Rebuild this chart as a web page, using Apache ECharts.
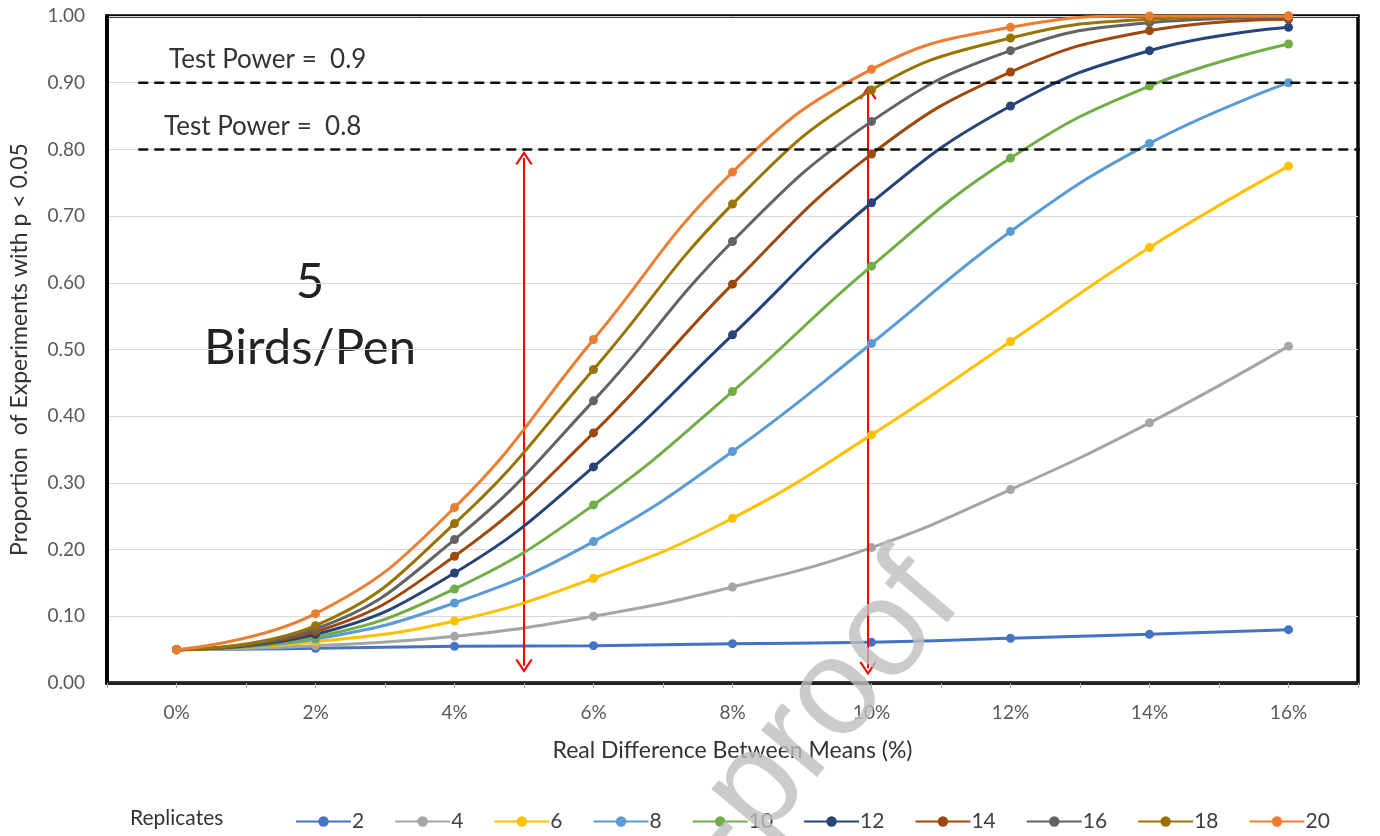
<!DOCTYPE html>
<html>
<head>
<meta charset="utf-8">
<title>Test power vs. real difference between means</title>
<script src="https://cdn.jsdelivr.net/npm/echarts@6/dist/echarts.min.js"></script>
<style>
  html, body { margin: 0; padding: 0; background: #fff; }
  #chart { width: 1380px; height: 836px; }
</style>
</head>
<body>
<div id="chart"></div>
<script>
// Real difference between means (%) at which power was simulated
const differences = [0, 2, 4, 6, 8, 10, 12, 14, 16];

// Proportion of experiments with p < 0.05, one array per number of replicates
const rep2  = [0.050, 0.052, 0.055, 0.056, 0.059, 0.061, 0.067, 0.073, 0.080];
const rep4  = [0.050, 0.056, 0.070, 0.100, 0.144, 0.203, 0.290, 0.390, 0.505];
const rep6  = [0.050, 0.062, 0.093, 0.157, 0.247, 0.372, 0.512, 0.653, 0.775];
const rep8  = [0.050, 0.066, 0.120, 0.212, 0.347, 0.509, 0.677, 0.809, 0.900];
const rep10 = [0.050, 0.069, 0.141, 0.267, 0.437, 0.625, 0.787, 0.895, 0.958];
const rep12 = [0.050, 0.073, 0.165, 0.324, 0.522, 0.720, 0.865, 0.948, 0.983];
const rep14 = [0.050, 0.077, 0.190, 0.375, 0.598, 0.793, 0.916, 0.978, 0.995];
const rep16 = [0.050, 0.081, 0.215, 0.423, 0.662, 0.842, 0.948, 0.990, 0.998];
const rep18 = [0.050, 0.086, 0.239, 0.470, 0.718, 0.889, 0.967, 0.995, 1.000];
const rep20 = [0.050, 0.104, 0.263, 0.515, 0.766, 0.920, 0.983, 1.000, 1.000];

const replicateNames = ['2', '4', '6', '8', '10', '12', '14', '16', '18', '20'];
const replicateValues = [rep2, rep4, rep6, rep8, rep10, rep12, rep14, rep16, rep18, rep20];
const replicateColors = ['#4472C4', '#A5A5A5', '#FFC000', '#5B9BD5', '#70AD47',
                         '#264478', '#9E480E', '#636363', '#997300', '#ED7D31'];

// Target power levels drawn as dashed reference lines
const powerLevels = [0.9, 0.8];
const powerLineSpan = [-0.55, 17.32];

// Vertical double-headed arrows: [x, yTop, yBottom]
const arrows = [[5, 0.787, 0.026], [9.95, 0.885, 0.022]];

const FONT = 'Lato, "Open Sans", sans-serif';
const chart = echarts.init(document.getElementById('chart'), null, { renderer: 'canvas' });

// open "V" arrow head, tip pointing up (markLine rotates it along the line)
const chevron = 'path://M0,9 L5,0 L10,9 L9,10 L5,2.6 L1,10 Z';

const curveSeries = replicateNames.map((name, i) => ({
  name: name,
  type: 'line',
  data: differences.map((d, j) => [d, replicateValues[i][j]]),
  smooth: 0.45,
  symbol: 'circle',
  symbolSize: 9,
  showSymbol: true,
  lineStyle: { width: 3, color: replicateColors[i] },
  itemStyle: { color: replicateColors[i] },
  emphasis: { disabled: true },
  z: 3 + i
}));

const powerSeries = powerLevels.map((p) => ({
  name: 'power ' + p,
  type: 'line',
  data: powerLineSpan.map((x) => [x, p]),
  symbol: 'none',
  clip: false,
  silent: true,
  lineStyle: { color: '#111', width: 2.5, type: [10, 6] },
  emphasis: { disabled: true },
  z: 20
}));

const arrowSeries = {
  name: 'arrows',
  type: 'line',
  data: [],
  silent: true,
  markLine: {
    silent: true,
    animation: false,
    symbol: [chevron, chevron],
    symbolSize: [17, 14],
    label: { show: false },
    lineStyle: { color: '#FF0000', width: 2, type: 'solid' },
    emphasis: { disabled: true },
    data: arrows.map((a) => [{ coord: [a[0], a[1]] }, { coord: [a[0], a[2]] }])
  },
  z: 25
};

chart.setOption({
  animation: false,
  backgroundColor: '#fff',
  grid: {
    left: 107, right: 22, top: 16, bottom: 153,
    show: true, borderColor: '#000', borderWidth: 3.5
  },
  xAxis: {
    type: 'value',
    min: -1, max: 17, interval: 1,
    name: 'Real Difference Between Means (%)',
    nameLocation: 'middle',
    nameGap: 56,
    nameTextStyle: { fontFamily: FONT, fontSize: 23, color: '#333' },
    axisLine: { show: true, onZero: false, lineStyle: { color: '#222', width: 3 } },
    axisTick: { show: true, length: 5, inside: false, lineStyle: { color: '#aaa', width: 1 } },
    axisLabel: {
      margin: 20,
      fontFamily: FONT, fontSize: 19, color: '#595959',
      formatter: (v) => (differences.indexOf(v) >= 0 ? v + '%' : '')
    },
    splitLine: { show: false }
  },
  yAxis: {
    type: 'value',
    min: 0, max: 1, interval: 0.1,
    name: 'Proportion  of Experiments with p < 0.05',
    nameLocation: 'middle',
    nameGap: 76,
    nameTextStyle: { fontFamily: FONT, fontSize: 23, color: '#333' },
    axisLine: { show: true, onZero: false, lineStyle: { color: '#000', width: 4 } },
    axisTick: { show: false },
    axisLabel: {
      margin: 22,
      fontFamily: FONT, fontSize: 19, color: '#595959',
      formatter: (v) => v.toFixed(2)
    },
    splitLine: { show: true, lineStyle: { color: '#d9d9d9', width: 1 } }
  },
  legend: {
    data: replicateNames,
    left: 290,
    top: 806,
    itemWidth: 55,
    itemHeight: 13,
    itemGap: 30,
    textStyle: { fontFamily: FONT, fontSize: 21, color: '#404040', padding: [0, 0, 0, -4] },
    selectedMode: false
  },
  graphic: [
    {
      type: 'text', x: 130, y: 818,
      style: { text: 'Replicates', font: '21px ' + FONT, fill: '#333', verticalAlign: 'middle' }
    },
    {
      type: 'text', x: 169, y: 60,
      style: { text: 'Test Power =  0.9', font: '26px ' + FONT, fill: '#333', verticalAlign: 'middle' }
    },
    {
      type: 'text', x: 164, y: 127,
      style: { text: 'Test Power =  0.8', font: '26px ' + FONT, fill: '#333', verticalAlign: 'middle' }
    },
    {
      type: 'text', x: 310, y: 282,
      style: { text: '5', font: '49px ' + FONT, fill: '#222', align: 'center', verticalAlign: 'middle' }
    },
    {
      type: 'text', x: 310, y: 348,
      style: { text: 'Birds/Pen', font: '49px ' + FONT, fill: '#222', align: 'center', verticalAlign: 'middle' }
    },
    {
      type: 'text', x: 935, y: 578, rotation: 0.87, z: 100, silent: true,
      style: {
        text: 'Journal Pre-proof',
        font: '138px "Liberation Sans", Arial, sans-serif',
        fill: 'rgba(190,190,190,0.8)',
        align: 'right', verticalAlign: 'middle'
      }
    }
  ],
  series: curveSeries.concat(powerSeries, [arrowSeries])
});
</script>
</body>
</html>
